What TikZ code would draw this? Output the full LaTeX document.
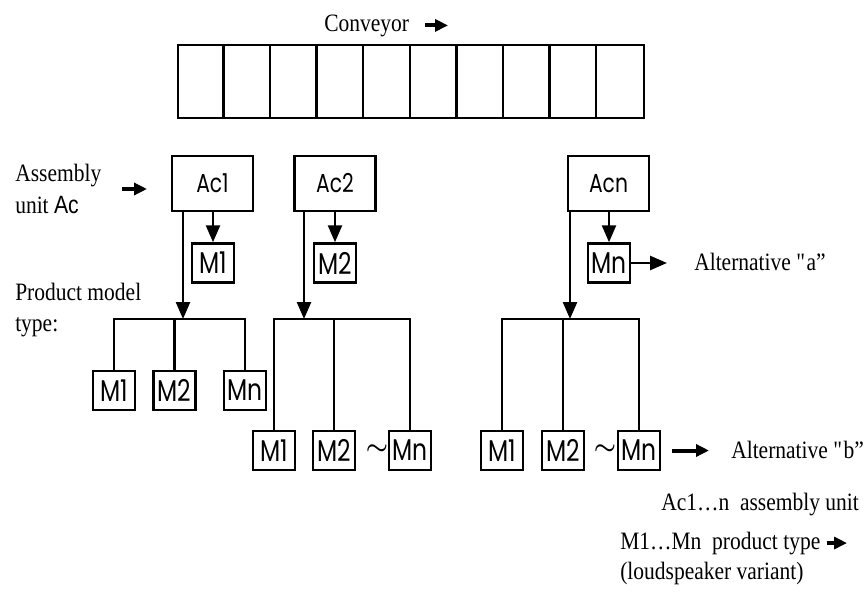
\documentclass[tikz,border=0pt]{standalone}
\usepackage{fontspec}
\setmainfont[FakeStretch=0.86]{Liberation Serif}
\newfontfamily\boxfont[FakeStretch=0.78]{Poppins}
\newfontfamily\acfont[FakeStretch=0.85]{Liberation Sans}
\usepackage{tikz}
\usetikzlibrary{positioning}
\usetikzlibrary{arrows.meta}

\begin{document}
\begin{tikzpicture}
                [x=1pt, y=-1pt, line width=2.5pt,
                 belt/.style = {minimum width=466pt, minimum height=73pt, draw, inner sep=0pt},
                 unit/.style = {minimum width=81pt, minimum height=55pt, draw, inner sep=0pt, font=\boxfont\fontsize{26}{26}\selectfont},
                 model/.style = {minimum width=42pt, minimum height=39pt, draw, inner sep=0pt, font=\boxfont\fontsize{30}{30}\selectfont},
                 txt/.style = {inner sep=0pt, anchor=base west, align=left, font=\fontsize{25}{31.5}\selectfont},
                 tip/.style = {-{Triangle[length=17pt, width=14pt]}},
                 bold/.style = {line width=4pt, -{Triangle[length=13pt, width=12pt]}}]
                \useasboundingbox (0,0) rectangle (864,597);
                % Conveyor with its cells
                \node[txt] (conv) at (323,31) {Conveyor};
                \node[belt] (belt) at (411,81.5) {};
                \foreach \i in {1,...,9}
                    \draw ([xshift=\i*46.6pt]belt.north west) -- ([xshift=\i*46.6pt]belt.south west);
                % Labels on the left (base is the last line)
                \node[txt] (asm) at (14,213.3) {Assembly\\unit {\acfont Ac}};
                \node[txt] (prod) at (14,331.7) {Product model\\type:};
                % Assembly units
                \node[unit] (Ac1) at (212.5,183.5) {Ac1};
                \node[unit] (Ac2) at (335,183.5) {Ac2};
                \node[unit] (Acn) at (608.5,183.5) {Acn};
                % Product type made in the unit (alternative a)
                \node[model] (M1a) at (213,263) {M1};
                \node[model] (M2a) at (335,263) {M2};
                \node[model] (Mna) at (609,263) {Mn};
                % Product types after the unit (alternative b)
                \node[model] (r11) at (114,390.5) {M1};
                \node[model] (r12) at (174.5,390.5) {M2};
                \node[model] (r13) at (245,390.5) {Mn};
                \node[model] (r21) at (274,450.5) {M1};
                \node[model] (r22) at (334,450.5) {M2};
                \node[model] (r23) at (410,450.5) {Mn};
                \node[model] (r31) at (502,450.5) {M1};
                \node[model] (r32) at (563,450.5) {M2};
                \node[model] (r33) at (639,450.5) {Mn};
                \node[font=\fontsize{24}{24}\selectfont\boldmath] (t2) at (377,450) {$\sim$};
                \node[font=\fontsize{24}{24}\selectfont\boldmath] (t3) at (605,450) {$\sim$};
                % Texts on the right
                \node[txt] (alta) at (693,270) {Alternative \textquotedbl a''};
                \node[txt] (altb) at (730,458) {Alternative \textquotedbl b''};
                \node[txt] (legac) at (660,510) {Ac1\ldots n\ \ assembly unit};
                \node[txt] (legm) at (619,549) {M1\ldots Mn\ \ product type};
                \node[txt] (legv) at (619,579) {(loudspeaker variant)};
                % Bus points and arrow ends
                \coordinate (b1) at (183,319);
                \coordinate (b2) at (304,319);
                \coordinate (b3) at (570,319);
                \coordinate (convtip) at (448,24);
                \coordinate (asmtip) at (147,187);
                \coordinate (altatip) at (667,263);
                \coordinate (altbtip) at (709,451);
                \coordinate (legtip) at (847,542);
                % Arrows
                \draw[bold] ([xshift=15pt]conv.east) -- (conv.east -| convtip);
                \draw[bold] ([xshift=19pt]asm.east) -- (asm.east -| asmtip);
                \draw[tip] (Ac1.south -| M1a) -- (M1a.north);
                \draw[tip] (Ac2.south -| M2a) -- (M2a.north);
                \draw[tip] (Acn.south -| Mna) -- (Mna.north);
                \draw[tip] (Mna.east) -- (altatip);
                \draw[tip] (Ac1.south -| b1) -- (b1);
                \draw[tip] (Ac2.south -| b2) -- (b2);
                \draw[tip] (Acn.south -| b3) -- (b3);
                \draw[bold] ([xshift=11pt]r33.east) -- (r33.east -| altbtip);
                \draw[bold] ([xshift=5pt]legm.east) -- (legm.east -| legtip);
                % Lines
                \draw (r11.north) |- (b1) -- (b1 -| r13) -- (r13.north);
                \draw (r12.north) -- (r12.north |- b1);
                \draw (r21.north) |- (b2) -- (b2 -| r23) -- (r23.north);
                \draw (r22.north) -- (r22.north |- b2);
                \draw (r31.north) |- (b3) -- (b3 -| r33) -- (r33.north);
                \draw (r32.north) -- (r32.north |- b3);
            \end{tikzpicture}
\end{document}
